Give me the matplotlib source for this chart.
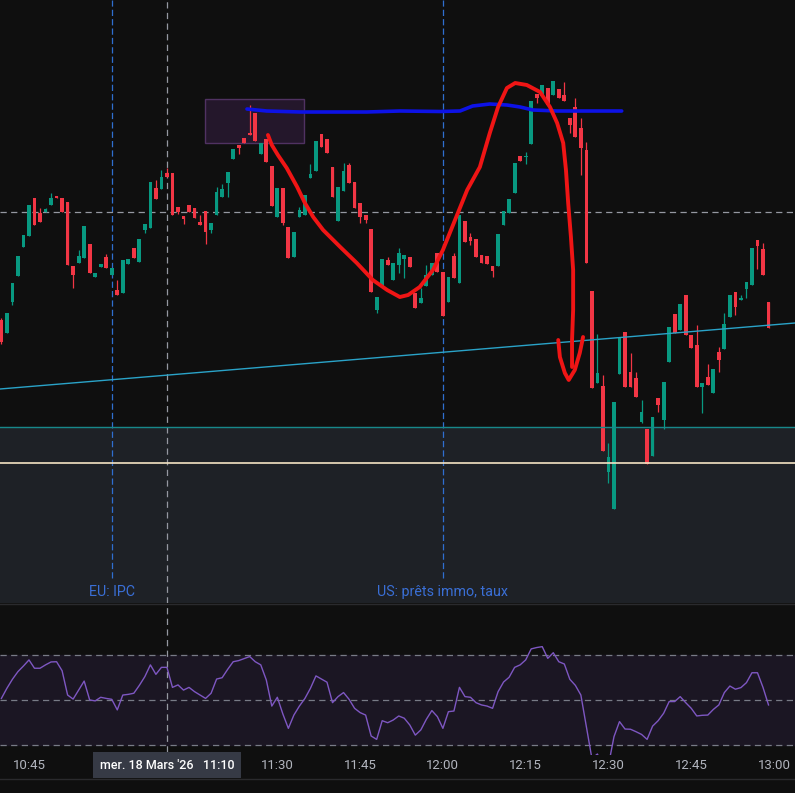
import matplotlib
matplotlib.use('Agg')
from matplotlib import pyplot as plt
from matplotlib.patches import Rectangle
from matplotlib.lines import Line2D
import numpy as np

# 1-minute candles, mer. 18 Mars '26, first candle 10:40
first_minute = 10 * 60 + 40

opens = [680, 667, 698, 724, 753, 764, 802, 787, 788, 795, 804, 802, 798, 734, 737, 742, 756, 723, 733, 743,
         725, 710, 707, 736, 752, 738, 770, 772, 812, 811, 827, 827, 793, 784, 795, 792, 778, 789, 770, 785,
         803, 817, 841, 855, 862, 867, 887, 846, 861, 834, 783, 812, 773, 743, 783, 785, 822, 829, 866, 861,
         833, 779, 809, 835, 818, 797, 785, 771, 690, 713, 740, 720, 735, 741, 743, 707, 697, 714, 725, 747,
         728, 698, 744, 717, 779, 763, 761, 745, 744, 734, 734, 775, 787, 807, 844, 843, 856, 906, 904, 912,
         905, 911, 905, 882, 893, 872, 850, 709, 617, 614, 528, 491, 626, 668, 628, 622, 578, 571, 544, 602,
         580, 638, 686, 670, 705, 665, 655, 613, 623, 607, 648, 651, 683, 708, 700, 711, 715, 760, 751, 698]
highs = [682, 687, 717, 744, 765, 795, 802, 792, 792, 807, 804, 802, 798, 734, 750, 774, 756, 727, 736, 746,
         732, 720, 740, 741, 752, 761, 776, 818, 820, 830, 832, 827, 793, 784, 795, 792, 785, 789, 777, 813,
         816, 828, 851, 855, 862, 895, 887, 857, 861, 834, 812, 812, 773, 768, 793, 805, 836, 859, 866, 861,
         833, 813, 837, 837, 818, 797, 785, 771, 703, 741, 743, 737, 752, 745, 743, 707, 712, 735, 737, 747,
         728, 723, 747, 785, 779, 767, 761, 745, 744, 734, 766, 789, 801, 837, 844, 848, 899, 906, 915, 912,
         919, 911, 918, 882, 902, 882, 858, 709, 666, 625, 557, 598, 662, 668, 647, 628, 600, 571, 583, 602,
         618, 673, 686, 696, 705, 665, 675, 617, 636, 631, 653, 687, 705, 708, 705, 718, 752, 760, 757, 698]
lows = [656, 667, 695, 724, 753, 764, 775, 778, 788, 795, 802, 788, 735, 712, 737, 742, 727, 723, 733, 732,
        725, 705, 707, 736, 742, 738, 767, 772, 801, 811, 823, 785, 786, 776, 788, 782, 775, 756, 767, 785,
        803, 803, 841, 846, 857, 865, 859, 846, 838, 794, 783, 775, 742, 743, 783, 785, 822, 829, 853, 847,
        803, 779, 809, 817, 792, 777, 777, 708, 687, 713, 735, 720, 727, 722, 733, 692, 697, 714, 725, 728,
        684, 698, 722, 717, 758, 755, 743, 737, 736, 723, 734, 775, 787, 807, 839, 836, 856, 897, 904, 895,
        905, 902, 899, 867, 863, 825, 737, 612, 617, 549, 517, 491, 626, 613, 613, 603, 577, 536, 544, 588,
        571, 638, 667, 670, 665, 652, 613, 587, 615, 607, 628, 651, 683, 685, 700, 702, 715, 731, 725, 672]
closes = [658, 687, 717, 744, 765, 795, 775, 778, 791, 802, 802, 788, 735, 725, 744, 774, 727, 727, 736, 732,
          732, 705, 740, 741, 742, 761, 776, 818, 801, 823, 823, 785, 788, 781, 788, 782, 775, 768, 777, 808,
          811, 828, 851, 852, 857, 865, 859, 857, 838, 794, 812, 777, 742, 768, 790, 805, 826, 859, 853, 847,
          803, 813, 829, 817, 792, 783, 780, 708, 703, 741, 735, 737, 747, 745, 733, 692, 702, 725, 737, 728,
          684, 723, 722, 785, 758, 759, 743, 737, 736, 729, 766, 789, 801, 837, 839, 844, 899, 902, 915, 895,
          919, 902, 899, 875, 863, 852, 737, 612, 627, 549, 543, 598, 662, 613, 613, 603, 588, 536, 583, 595,
          618, 673, 667, 696, 665, 652, 613, 617, 615, 631, 640, 676, 705, 693, 702, 718, 752, 754, 725, 672]

# RSI per candle
rsi = [50.7, 55.2, 59.2, 62.6, 65.1, 67.8, 64.1, 64.1, 65.6, 66.9, 67.0, 63.0, 52.2, 50.4, 54.4, 58.4, 50.0, 49.6,
       51.2, 50.7, 50.3, 45.6, 52.2, 52.5, 53.0, 56.5, 60.4, 65.6, 61.4, 64.5, 64.5, 55.6, 56.7, 54.4, 55.6, 53.7,
       52.2, 50.7, 53.0, 59.3, 59.9, 63.6, 67.0, 67.5, 68.4, 69.3, 67.0, 65.6, 58.9, 47.3, 51.2, 43.8, 37.4, 43.3,
       47.3, 50.7, 55.2, 60.7, 59.3, 57.9, 48.8, 51.5, 53.3, 50.3, 46.3, 44.4, 43.3, 34.0, 32.5, 40.8, 39.9, 41.1,
       42.9, 41.9, 38.9, 34.4, 36.7, 41.4, 45.3, 42.6, 37.4, 44.8, 45.1, 55.6, 51.5, 51.2, 48.8, 47.8, 47.3, 46.3,
       53.7, 58.0, 60.1, 64.5, 65.6, 67.8, 72.7, 73.3, 73.7, 68.5, 71.0, 67.0, 66.0, 59.2, 56.5, 52.2, 38.1, 24.0,
       26.0, 20.0, 21.0, 33.7, 40.4, 37.1, 37.0, 35.9, 34.7, 32.5, 38.4, 40.8, 44.1, 49.3, 49.3, 51.5, 48.8, 46.3,
       42.9, 43.2, 43.3, 45.8, 47.8, 53.3, 56.2, 54.8, 55.5, 57.7, 62.1, 62.1, 55.6, 47.8]

# drawings on the chart (time in minutes, price)
trend_t = [639.75, 783.8]
trend_p = [611, 677]
zone_top = 573.5
yellow_level = 536.7
crosshair_price = 788
crosshair_time = 11 * 60 + 10
event_times = [11 * 60, 12 * 60]
event_labels = ['EU: IPC', 'US: prêts immo, taux']
box_t = [676.9, 694.8]
box_p = [857, 901]
blue_t = [684.5, 688.1, 694.1, 700.1, 706.2, 712.2, 719.5, 723.1, 725.4, 728.5, 731.6, 734.0, 736.3, 740.7,
          746.7, 752.4]
blue_p = [891, 889, 888, 888, 888, 889, 888.5, 889, 894, 896, 895, 893, 890, 889, 889, 889]
red_t = [688.3, 689.0, 690.1, 691.7, 693.6, 695.0, 696.5, 698.3, 701.4, 704.4, 707.3, 709.9, 712.2, 713.7,
         715.8, 718.2, 720.0, 722.2, 724.4, 726.7, 728.5, 730.0, 731.6, 733.1, 735.2, 737.6, 739.4, 740.7,
         741.8, 742.3, 742.7, 743.2, 743.6, 743.6, 743.4, 743.4]
red_p = [865, 855, 845, 832, 813, 797, 783, 770, 753, 737, 720, 710, 703, 705, 713, 730, 750, 780, 810, 833,
         867, 893, 912, 917, 915, 908, 893, 877, 857, 830, 797, 763, 730, 690, 660, 633]
hook_t = [740.9, 741.2, 742.1, 742.8, 743.9, 744.8, 745.4]
hook_p = [660, 643, 627, 620, 630, 647, 663]

tick_times = [645, 690, 705, 720, 735, 750, 765, 780]
tick_labels = ['10:45', '11:30', '11:45', '12:00', '12:15', '12:30', '12:45', '13:00']

BG = '#0f0f0f'
UP = '#089981'
DOWN = '#f23645'
GRID = '#9598a1'
TXT = '#b2b5be'
plt.rcParams['font.family'] = ['Roboto', 'DejaVu Sans']

H = 793.0
fig = plt.figure(figsize=(7.95, 7.93), dpi=100, facecolor=BG)
ax = fig.add_axes([0, 190 / H, 1, 603 / H])
ax_rsi = fig.add_axes([0, 38 / H, 1, 150 / H])
for a in (ax, ax_rsi):
    a.set_facecolor(BG)
    for s in a.spines.values():
        s.set_visible(False)
    a.set_xticks([])
    a.set_yticks([])
    a.set_xlim(639.75, 783.8)

ax.set_ylim(397, 1000)
ax_rsi.set_ylim(25.56, 92.2)

times = first_minute + np.arange(len(opens))
o = np.array(opens)
c = np.array(closes)
up = c >= o
cols = np.where(up, UP, DOWN)

# zone + levels
ax.axhspan(397, zone_top, color='#1e2126', zorder=0)
ax.axhline(zone_top, color='#17888a', lw=1.0, zorder=4)
ax.axhline(yellow_level, color='#f4e4c4', lw=1.2, zorder=4)

# candles
ax.vlines(times, lows, highs, colors=cols, lw=0.9, zorder=3)
body = np.maximum(np.abs(c - o), 1.2)
ax.bar(times, body, bottom=np.minimum(o, c), width=0.68, color=cols, zorder=3, linewidth=0)

# trend line
ax.plot(trend_t, trend_p, color='#2aa3c8', lw=1.0, zorder=4)

# event markers
for t, lab in zip(event_times, event_labels):
    ax.axvline(t, ymin=0.042, ymax=1, color='#2f6fd0', lw=0.9, ls=(0, (5, 2.5)), zorder=2)
    ax.text(t, 0.018, lab, transform=ax.get_xaxis_transform(), ha='center', va='center',
            color='#3a6fd6', fontsize=10.3)

# crosshair
ax.axhline(crosshair_price, color=GRID, lw=0.9, ls=(0, (5, 3.5)), zorder=2)
ax.axvline(crosshair_time, color=GRID, lw=0.9, ls=(0, (5, 3.5)), zorder=2)
ax_rsi.axvline(crosshair_time, ymin=0.02, color=GRID, lw=0.9, ls=(0, (5, 3.5)), zorder=2)

# user drawings
ax.add_patch(Rectangle((box_t[0], box_p[0]), box_t[1] - box_t[0], box_p[1] - box_p[0],
                       facecolor='#2a1a33', edgecolor='#5e3a74', lw=1.0, alpha=0.8, zorder=1))
ax.plot(blue_t, blue_p, color='#0d12e6', lw=2.6, solid_capstyle='round', solid_joinstyle='round', zorder=6)
ax.plot(red_t, red_p, color='#f01515', lw=2.8, solid_capstyle='round', solid_joinstyle='round', zorder=6)
ax.plot(hook_t, hook_p, color='#f01515', lw=2.8, solid_capstyle='round', solid_joinstyle='round', zorder=6)

# RSI pane
ax_rsi.axhspan(30, 70, color='#1b1623', zorder=0)
for lvl in (70, 50, 30):
    ax_rsi.axhline(lvl, color='#787b86', lw=0.9, ls=(0, (5, 3.5)), zorder=1)
ax_rsi.plot(times, rsi, color='#7e57c2', lw=1.0, zorder=3)

# time axis
for t, lab in zip(tick_times, tick_labels):
    ax_rsi.text(t, -0.067, lab, transform=ax_rsi.get_xaxis_transform(), ha='center', va='center',
                color=TXT, fontsize=9.5)
ax_rsi.text(crosshair_time, -0.067, "mer. 18 Mars '26   11:10", transform=ax_rsi.get_xaxis_transform(),
            ha='center', va='center', color='#ffffff', fontsize=9, fontweight='medium',
            bbox=dict(boxstyle='square,pad=0.55', fc='#363a45', ec='none'))

fig.add_artist(Line2D([0, 1], [189 / H, 189 / H], color='#2a2a2d', lw=1.0))
fig.add_artist(Line2D([0, 1], [14 / H, 14 / H], color='#2a2a2d', lw=1.0))

fig.savefig('out.png', dpi=100, facecolor=BG)
